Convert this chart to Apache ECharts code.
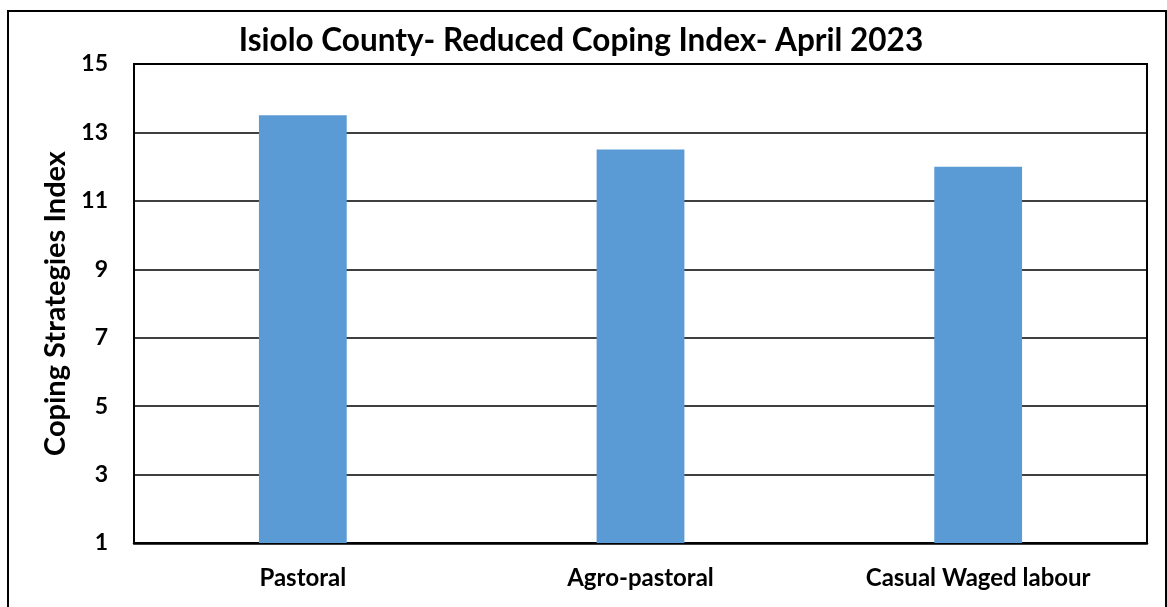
<!DOCTYPE html>
<html>
<head>
<meta charset="utf-8">
<script src="https://cdn.jsdelivr.net/npm/echarts@6/dist/echarts.min.js"></script>
<style>
  html, body { margin: 0; padding: 0; background: #fff; }
  #mainArea { width: 1167px; height: 607px; }
</style>
</head>
<body>
<div id="mainArea"></div>
<script>
// livelihood zones and their reduced coping index
var categories = ['Pastoral', 'Agro-pastoral', 'Casual Waged labour'];
var rcsiValues = [13.5, 12.5, 12];

var titleText = 'Isiolo County- Reduced Coping Index- April 2023';
var yName = 'Coping Strategies Index';

var fontFam = 'Lato, "Open Sans", sans-serif';

var option = {
    animation: false,
    backgroundColor: '#fff',
    title: {
        text: titleText,
        left: 576,
        top: 20,
        textAlign: 'center',
        textStyle: {
            fontFamily: fontFam,
            fontWeight: 'bold',
            fontSize: 31.5,
            color: '#000'
        }
    },
    graphic: [
        {
            type: 'rect',
            shape: { x: 8, y: 11, width: 1158, height: 640 },
            style: { fill: 'none', stroke: '#000', lineWidth: 2 },
            silent: true
        }
    ],
    grid: {
        left: 134,
        right: 20,
        top: 64,
        bottom: 64,
        show: true,
        borderColor: '#000',
        borderWidth: 2,
        backgroundColor: 'transparent'
    },
    xAxis: {
        type: 'category',
        data: categories,
        axisLine: { show: true, lineStyle: { color: '#000', width: 2.5 } },
        axisTick: { show: false },
        axisLabel: {
            margin: 23,
            fontFamily: fontFam,
            fontWeight: 'bold',
            fontSize: 24,
            color: '#000'
        }
    },
    yAxis: {
        type: 'value',
        min: 1,
        max: 15,
        interval: 2,
        name: yName,
        nameLocation: 'middle',
        nameGap: 62,
        nameTextStyle: {
            fontFamily: fontFam,
            fontWeight: 'bold',
            fontSize: 29,
            color: '#000'
        },
        axisLine: { show: true, lineStyle: { color: '#000', width: 2 } },
        axisTick: { show: false },
        splitLine: { show: true, lineStyle: { color: '#000', width: 1.5 } },
        axisLabel: {
            margin: 26,
            fontFamily: fontFam,
            fontWeight: 'bold',
            fontSize: 23,
            color: '#000'
        }
    },
    series: [
        {
            type: 'bar',
            data: rcsiValues,
            barWidth: '26%',
            itemStyle: { color: '#5B9BD5' }
        }
    ]
};

var myChart = echarts.init(document.getElementById('mainArea'));
myChart.setOption(option);
</script>
</body>
</html>
